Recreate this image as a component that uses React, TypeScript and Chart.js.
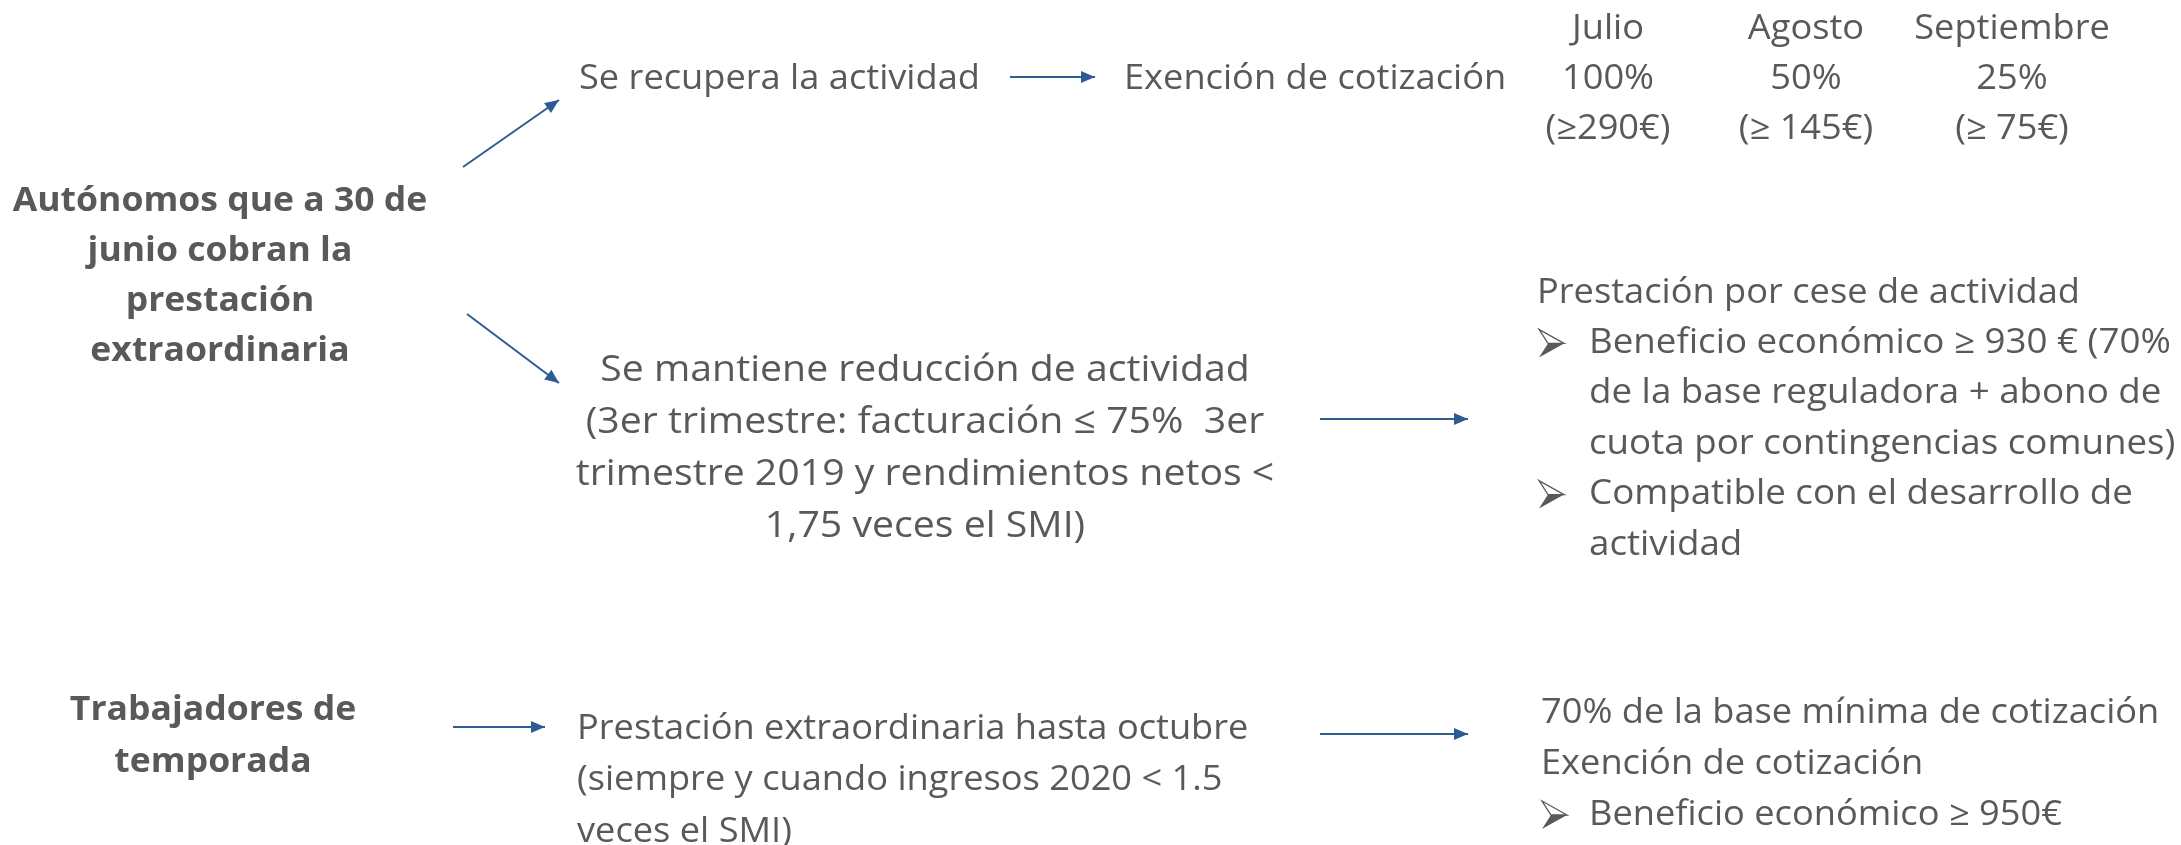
import React, { useEffect, useRef } from "react";
import { Chart, registerables } from "chart.js";

Chart.register(...registerables);

// ---- content ----
const months = ["Julio", "Agosto", "Septiembre"];
const exemptionRates = ["100%", "50%", "25%"];
const exemptionMinimums = ["(≥290€)", "(≥ 145€)", "(≥ 75€)"];
const recoveryLabel = "Se recupera la actividad";
const exemptionLabel = "Exención de cotización";
const autonomosGroup = ["Autónomos que a 30 de", "junio cobran la", "prestación", "extraordinaria"];
const reductionLines = [
  "Se mantiene reducción de actividad",
  "(3er trimestre: facturación ≤ 75%  3er",
  "trimestre 2019 y rendimientos netos <",
  "1,75 veces el SMI)",
];
const ceseTitle = "Prestación por cese de actividad";
const ceseBullets = [
  ["Beneficio económico ≥ 930 € (70%", "de la base reguladora + abono de", "cuota por contingencias comunes)"],
  ["Compatible con el desarrollo de", "actividad"],
];
const seasonalGroup = ["Trabajadores de", "temporada"];
const seasonalBenefitLines = [
  "Prestación extraordinaria hasta octubre",
  "(siempre y cuando ingresos 2020 < 1.5",
  "veces el SMI)",
];
const seasonalOutcomeLines = ["70% de la base mínima de cotización", "Exención de cotización"];
const seasonalBullets = ["Beneficio económico ≥ 950€"];

// ---- layout (data units of the canvas-wide scales) ----
const W = 2181;
const H = 845;
const LAYOUT = {
  monthCols: [1608, 1806, 2012],
  monthRows: [29, 79, 129],
  recovery: { x: 579, y: 79 },
  exemption: { x: 1124, y: 79 },
  autonomos: { x: 220, y0: 201, dy: 50 },
  reduction: { x: 925, y0: 370, dy: 52.3 },
  cese: { x: 1537, bulletX: 1539, textX: 1589, y0: 293, dy: 50.4 },
  seasonal: { x: 213, y0: 710, dy: 52 },
  seasonalBenefit: { x: 577, y0: 729, dy: 51.5 },
  seasonalOutcome: { x: 1541, bulletX: 1542, textX: 1589, y0: 713, dy: 51 },
};
const ARROWS = [
  [[1010, 77], [1095, 77]],
  [[463, 167], [559, 100]],
  [[467, 314], [559, 383]],
  [[1320, 419], [1468, 419]],
  [[453, 727], [545, 727]],
  [[1320, 734], [1468, 734]],
];

const TEXT_COLOR = "#595959";
const ARROW_COLOR = "#2f5b94";
const FONT = '"Open Sans", "DejaVu Sans", sans-serif';
const BASE = 34;
const STRETCH = 1.065;

const diagramPlugin = {
  id: "diagramText",
  afterDatasetsDraw(chart: any) {
    const { ctx } = chart;
    const xs = chart.scales.x;
    const ys = chart.scales.y;
    const px = (v: number) => xs.getPixelForValue(v);
    const py = (v: number) => ys.getPixelForValue(v);

    // arrowheads
    chart.data.datasets.forEach((_: any, i: number) => {
      const pts = chart.getDatasetMeta(i).data;
      const a = pts[0];
      const b = pts[pts.length - 1];
      const ang = Math.atan2(b.y - a.y, b.x - a.x);
      const len = 14;
      const half = 6;
      ctx.save();
      ctx.translate(b.x, b.y);
      ctx.rotate(ang);
      ctx.beginPath();
      ctx.moveTo(0, 0);
      ctx.lineTo(-len, -half);
      ctx.lineTo(-len, half);
      ctx.closePath();
      ctx.fillStyle = ARROW_COLOR;
      ctx.fill();
      ctx.restore();
    });

    const text = (
      s: string,
      x: number,
      y: number,
      align: CanvasTextAlign,
      size = BASE,
      bold = false,
      sx = STRETCH
    ) => {
      ctx.save();
      ctx.font = `${bold ? "bold " : ""}${size}px ${FONT}`;
      ctx.fillStyle = TEXT_COLOR;
      ctx.textAlign = align;
      ctx.textBaseline = "middle";
      ctx.translate(px(x), py(y));
      ctx.scale(sx, 1);
      ctx.fillText(s, 0, 0);
      ctx.restore();
    };
    // 3-D arrowhead bullet (➢ style)
    const bullet = (x: number, y: number) => {
      const bx = px(x);
      const by = py(y);
      ctx.save();
      ctx.translate(bx, by);
      ctx.lineJoin = "miter";
      // lower, shaded half
      ctx.beginPath();
      ctx.moveTo(9, 0);
      ctx.lineTo(25, 0);
      ctx.lineTo(0, 14);
      ctx.closePath();
      ctx.fillStyle = TEXT_COLOR;
      ctx.fill();
      // upper, lit half
      ctx.beginPath();
      ctx.moveTo(9, 0);
      ctx.lineTo(25, 0);
      ctx.lineTo(0, -14);
      ctx.closePath();
      ctx.fillStyle = "#ffffff";
      ctx.fill();
      ctx.strokeStyle = TEXT_COLOR;
      ctx.lineWidth = 1.3;
      ctx.stroke();
      ctx.restore();
    };

    text(recoveryLabel, LAYOUT.recovery.x, LAYOUT.recovery.y, "left");
    text(exemptionLabel, LAYOUT.exemption.x, LAYOUT.exemption.y, "left");
    months.forEach((m, i) => {
      const cx = LAYOUT.monthCols[i];
      text(m, cx, LAYOUT.monthRows[0], "center");
      text(exemptionRates[i], cx, LAYOUT.monthRows[1], "center");
      text(exemptionMinimums[i], cx, LAYOUT.monthRows[2], "center");
    });

    autonomosGroup.forEach((s, i) =>
      text(s, LAYOUT.autonomos.x, LAYOUT.autonomos.y0 + i * LAYOUT.autonomos.dy, "center", BASE, true, 1.045)
    );
    reductionLines.forEach((s, i) =>
      text(s, LAYOUT.reduction.x, LAYOUT.reduction.y0 + i * LAYOUT.reduction.dy, "center", BASE + 3, false, 1.06)
    );

    const c = LAYOUT.cese;
    text(ceseTitle, c.x, c.y0, "left");
    let row = 1;
    ceseBullets.forEach((lines) => {
      bullet(c.bulletX, c.y0 + row * c.dy);
      lines.forEach((s) => {
        text(s, c.textX, c.y0 + row * c.dy, "left", BASE, false, 1.08);
        row++;
      });
    });

    seasonalGroup.forEach((s, i) =>
      text(s, LAYOUT.seasonal.x, LAYOUT.seasonal.y0 + i * LAYOUT.seasonal.dy, "center", BASE, true, 1.045)
    );
    seasonalBenefitLines.forEach((s, i) =>
      text(s, LAYOUT.seasonalBenefit.x, LAYOUT.seasonalBenefit.y0 + i * LAYOUT.seasonalBenefit.dy, "left")
    );
    const o = LAYOUT.seasonalOutcome;
    seasonalOutcomeLines.forEach((s, i) => text(s, o.x, o.y0 + i * o.dy, "left"));
    seasonalBullets.forEach((s, i) => {
      const yy = o.y0 + (seasonalOutcomeLines.length + i) * o.dy;
      bullet(o.bulletX, yy);
      text(s, o.textX, yy, "left");
    });
  },
};

export default function App() {
  const ref = useRef<HTMLCanvasElement | null>(null);
  useEffect(() => {
    document.body.style.margin = "0";
    const canvas = ref.current;
    if (!canvas) return;
    const chart = new Chart(canvas, {
      type: "scatter",
      data: {
        datasets: ARROWS.map((a) => ({
          data: a.map(([x, y]) => ({ x, y })),
          showLine: true,
          borderColor: ARROW_COLOR,
          borderWidth: 2,
          pointRadius: 0,
          pointHoverRadius: 0,
          borderCapStyle: "butt" as const,
        })),
      },
      options: {
        animation: false,
        responsive: false,
        maintainAspectRatio: false,
        layout: { padding: 0 },
        plugins: { legend: { display: false }, tooltip: { enabled: false } },
        events: [],
        scales: {
          x: { type: "linear", min: 0, max: W, display: false },
          y: { type: "linear", min: 0, max: H, reverse: true, display: false },
        },
      },
      plugins: [diagramPlugin],
    });
    return () => chart.destroy();
  }, []);
  return (
    <div style={{ width: W, height: H, background: "#fff" }}>
      <canvas ref={ref} width={W} height={H} style={{ display: "block", width: W, height: H }} />
    </div>
  );
}
